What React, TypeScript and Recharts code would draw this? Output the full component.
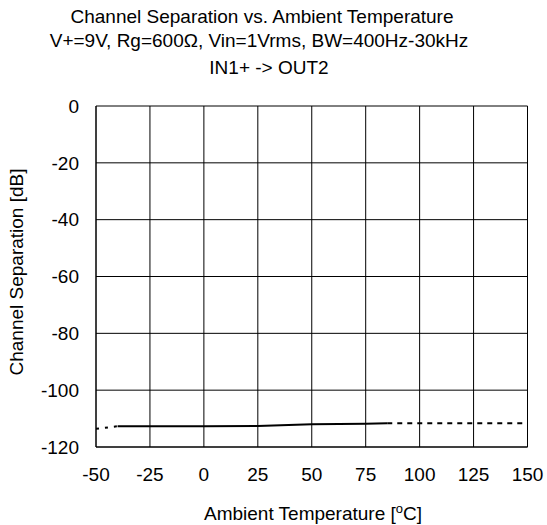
import React from "react";
import { LineChart, Line, XAxis, YAxis, CartesianGrid, Customized } from "recharts";

const xTicks = [-50, -25, 0, 25, 50, 75, 100, 125, 150];
const yTicks = [0, -20, -40, -60, -80, -100, -120];

const solidTemp = [-40, 0, 25, 50, 75, 85];
const solidSep = [-112.7, -112.7, -112.6, -112.0, -111.8, -111.6];
const lowTemp = [-50, -40];
const lowSep = [-113.6, -112.7];
const highTemp = [85, 150];
const highSep = [-111.6, -111.6];

const titleLines = [
  "Channel Separation vs. Ambient Temperature",
  "V+=9V, Rg=600\u03A9, Vin=1Vrms, BW=400Hz-30kHz",
  "IN1+ -> OUT2",
];

const toRows = (t: number[], v: number[]) => t.map((x, i) => ({ t: x, v: v[i] }));

const FONT = "'Liberation Sans', Arial, sans-serif";

const Titles = () => (
  <g fontFamily={FONT} fontSize={19} fill="#000">
    <text x={262} y={23} textAnchor="middle">{titleLines[0]}</text>
    <text x={259} y={47} textAnchor="middle">{titleLines[1]}</text>
    <text x={269} y={74} textAnchor="middle">{titleLines[2]}</text>
    <text x={313} y={520} textAnchor="middle">
      Ambient Temperature [<tspan fontSize={13} dy={-7}>o</tspan><tspan dy={7}>C]</tspan>
    </text>
    <text x={23} y={272} textAnchor="middle" transform="rotate(-90 23 272)">
      Channel Separation [dB]
    </text>
  </g>
);

export default function App() {
  return (
    <div style={{ position: "absolute", left: 0, top: 0, width: 547, height: 525, background: "#fff" }}>
      <LineChart
        width={547}
        height={525}
        margin={{ top: 106, right: 19.5, bottom: 38, left: 36 }}
      >
        <CartesianGrid stroke="#000" strokeWidth={1} />
        <XAxis
          type="number"
          dataKey="t"
          domain={[-50, 150]}
          ticks={xTicks}
          height={40}
          allowDataOverflow
          tickLine={false}
          tickSize={0}
          tickMargin={21}
          axisLine={{ stroke: "#000", strokeWidth: 1 }}
          tick={{ fill: "#000", fontSize: 19, fontFamily: FONT }}
          interval={0}
        />
        <YAxis
          type="number"
          domain={[-120, 0]}
          ticks={yTicks}
          width={60}
          allowDataOverflow
          tickLine={false}
          tickSize={0}
          tickMargin={17}
          axisLine={{ stroke: "#000", strokeWidth: 1 }}
          tick={{ fill: "#000", fontSize: 19, fontFamily: FONT }}
          interval={0}
        />
        <Line
          data={toRows(lowTemp, lowSep)}
          dataKey="v"
          type="linear"
          stroke="#000"
          strokeWidth={2}
          strokeDasharray="3 6"
          dot={false}
          isAnimationActive={false}
        />
        <Line
          data={toRows(solidTemp, solidSep)}
          dataKey="v"
          type="linear"
          stroke="#000"
          strokeWidth={2}
          dot={false}
          isAnimationActive={false}
        />
        <Line
          data={toRows(highTemp, highSep)}
          dataKey="v"
          type="linear"
          stroke="#000"
          strokeWidth={2}
          strokeDasharray="5 5"
          dot={false}
          isAnimationActive={false}
        />
        <Customized component={Titles} />
      </LineChart>
    </div>
  );
}
